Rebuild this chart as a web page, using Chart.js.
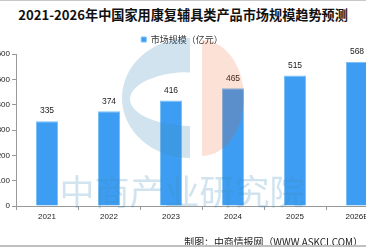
<!DOCTYPE html>
<html lang="zh">
<head>
<meta charset="UTF-8">
<title>2021-2026年中国家用康复辅具类产品市场规模趋势预测</title>
<script src="https://cdn.jsdelivr.net/npm/chart.js@4.4.1/dist/chart.umd.min.js"></script>
<style>
    body {
        margin: 0;
        width: 366px;
        height: 248px;
        overflow: hidden;
        position: relative;
        background: #fff;
        font-family: "Noto Sans CJK SC", sans-serif;
    }
    .topline { position: absolute; left: 0; top: 0; width: 366px; height: 1px; background: #c8c8c8; }
    .bottomline { position: absolute; left: 0; top: 245px; width: 366px; height: 2px; background: #c0c0c0; }
    #title {
        position: absolute;
        top: 4px;
        left: 0;
        width: 366px;
        text-align: center;
        font-weight: bold;
        font-size: 13px;
        line-height: 22px;
        color: #111;
        white-space: nowrap;
    }
    #wrap {
        position: absolute;
        left: -24px;
        top: 0;
        width: 430px;
        height: 248px;
    }
    #footer {
        position: absolute;
        right: 3px;
        top: 234px;
        font-size: 10px;
        line-height: 16px;
        color: #222;
        white-space: nowrap;
    }
</style>
</head>
<body>
<div class="topline"></div>
<div id="title"><span id="titleText">2021-2026年中国家用康复辅具类产品市场规模趋势预测</span></div>
<div id="wrap"><canvas id="chart" width="430" height="248"></canvas></div>
<div id="footer"><span id="footText">制图：中商情报网（WWW.ASKCI.COM）</span></div>
<div class="bottomline"></div>

<script>
    // données
    const years = ['2021', '2022', '2023', '2024', '2025', '2026E'];
    const marketSize = [335, 374, 416, 465, 515, 568];
    const seriesName = '市场规模（亿元）';
    const yTicks = [0, 100, 200, 300, 400, 500, 600];

    const barColor = '#3d9df2';
    const shift = 24; // le canvas est décalé de 24px à gauche

    // ajuster la taille d'un texte à une largeur donnée
    function fitText(id, target) {
        const el = document.getElementById(id);
        const w = el.getBoundingClientRect().width;
        const size = parseFloat(getComputedStyle(el).fontSize);
        el.style.fontSize = (size * target / w) + 'px';
    }
    fitText('titleText', 330);
    fitText('footText', 179);

    // valeurs au-dessus des barres
    const valueLabels = {
        id: 'valueLabels',
        afterDatasetsDraw(chart) {
            const ctx = chart.ctx;
            const meta = chart.getDatasetMeta(0);
            ctx.save();
            ctx.font = '8.5px "Liberation Sans"';
            ctx.fillStyle = '#222';
            ctx.textAlign = 'center';
            ctx.textBaseline = 'middle';
            meta.data.forEach((bar, i) => {
                ctx.fillText(marketSize[i], bar.x, bar.y - 10);
            });
            ctx.restore();
        }
    };

    // filigrane
    const watermark = {
        id: 'watermark',
        afterDraw(chart) {
            const ctx = chart.ctx;
            ctx.save();
            ctx.translate(shift, 0);
            // demi-disque bleu avec découpe
            ctx.fillStyle = 'rgba(67,143,187,0.25)';
            ctx.beginPath();
            ctx.ellipse(190, 98, 68, 60, 0, Math.PI / 2, Math.PI * 1.5);
            ctx.closePath();
            ctx.ellipse(190, 99, 60, 27, 0, Math.PI / 2, Math.PI * 1.5);
            ctx.closePath();
            ctx.fill('evenodd');
            // demi-disque orange
            ctx.fillStyle = 'rgba(235,80,10,0.17)';
            ctx.beginPath();
            ctx.ellipse(202, 98, 42, 58, 0, -Math.PI / 2, Math.PI / 2);
            ctx.closePath();
            ctx.fill();
            // texte
            ctx.font = '35px "Noto Sans CJK SC"';
            ctx.fillStyle = 'rgba(67,143,187,0.25)';
            ctx.textAlign = 'center';
            ctx.textBaseline = 'middle';
            ctx.fillText('中商产业研究院', 182, 192);
            ctx.restore();
        }
    };

    new Chart(document.getElementById('chart'), {
        type: 'bar',
        data: {
            labels: years,
            datasets: [{
                label: seriesName,
                data: marketSize,
                backgroundColor: barColor,
                borderColor: '#7cc0f7',
                borderWidth: 1,
                categoryPercentage: 1,
                barPercentage: 0.355
            }]
        },
        options: {
            responsive: false,
            animation: false,
            devicePixelRatio: 1,
            layout: { padding: { top: 30, right: 18, bottom: 22, left: 0 } },
            plugins: {
                legend: {
                    position: 'top',
                    labels: {
                        boxWidth: 5,
                        boxHeight: 5,
                        padding: 5,
                        color: '#333',
                        font: { size: 9, family: '"Noto Sans CJK SC"' }
                    }
                },
                tooltip: { enabled: false }
            },
            scales: {
                x: {
                    grid: { drawOnChartArea: false, tickLength: 4, color: '#999', offset: true },
                    border: { color: '#999' },
                    ticks: { color: '#222', padding: 2, font: { size: 8, family: '"Liberation Sans"' } },
                    afterFit(s) { s.height = 20; }
                },
                y: {
                    min: 0,
                    max: 600,
                    afterBuildTicks(s) { s.ticks = yTicks.map(v => ({ value: v })); },
                    grid: { drawOnChartArea: false, tickLength: 4, color: '#999' },
                    border: { color: '#999' },
                    ticks: { color: '#222', padding: 2, font: { size: 8, family: '"Liberation Sans"' } },
                    afterFit(s) { s.width = 40; }
                }
            }
        },
        plugins: [valueLabels, watermark]
    });
</script>
</body>
</html>
